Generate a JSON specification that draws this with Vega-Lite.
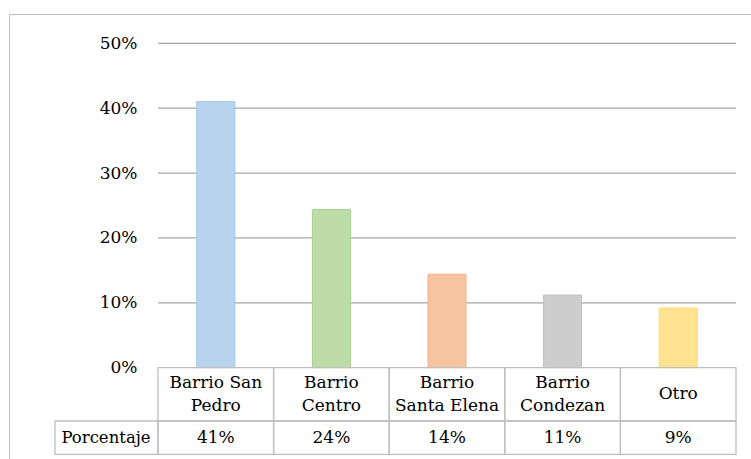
{
  "$schema": "https://vega.github.io/schema/vega-lite/v6.json",
  "width": 742,
  "height": 445,
  "autosize": {"type": "none"},
  "padding": {"left": 9, "top": 14, "right": 0, "bottom": 0},
  "background": "#ffffff",
  "config": {
    "font": "DejaVu Serif",
    "view": {"stroke": null},
    "axis": {"labelFont": "DejaVu Serif", "labelFontSize": 17, "labelColor": "#000000"},
    "text": {"font": "DejaVu Serif", "fontSize": 17, "color": "#000000"}
  },
  "datasets": {
    "barrios": [
      {"barrio": "Barrio San Pedro", "etiqueta": "Barrio San\nPedro", "porcentaje": 0.41},
      {"barrio": "Barrio Centro", "etiqueta": "Barrio\nCentro", "porcentaje": 0.244},
      {"barrio": "Barrio Santa Elena", "etiqueta": "Barrio\nSanta Elena", "porcentaje": 0.144},
      {"barrio": "Barrio Condezan", "etiqueta": "Barrio\nCondezan", "porcentaje": 0.112},
      {"barrio": "Otro", "etiqueta": "Otro", "porcentaje": 0.092}
    ],
    "guias": [{"nivel": 0.1}, {"nivel": 0.2}, {"nivel": 0.3}, {"nivel": 0.4}, {"nivel": 0.5}],
    "rotulo": [{"texto": "Porcentaje"}]
  },
  "layer": [
    {
      "data": {"name": "guias"},
      "mark": {"type": "rule", "color": "#a6a6a6", "strokeWidth": 1.3},
      "encoding": {
        "x": {
          "datum": "Barrio San Pedro",
          "type": "nominal",
          "bandPosition": 0,
          "scale": {
            "type": "band",
            "domain": ["Barrio San Pedro", "Barrio Centro", "Barrio Santa Elena", "Barrio Condezan", "Otro"],
            "paddingInner": 0,
            "paddingOuter": 0.70934,
            "align": 0.90854
          },
          "axis": {"orient": "top", "domain": true, "domainColor": "#bfbfbf", "domainWidth": 1, "labels": false, "ticks": false, "grid": false, "title": null}
        },
        "x2": {"datum": "Otro", "bandPosition": 1},
        "y": {
          "field": "nivel",
          "type": "quantitative",
          "scale": {"domain": [-0.14072, 0.54516], "nice": false, "zero": false},
          "axis": {
            "orient": "left",
            "values": [0, 0.1, 0.2, 0.3, 0.4, 0.5],
            "format": ".0%",
            "domain": true,
            "domainColor": "#bfbfbf",
            "domainWidth": 1,
            "ticks": false,
            "grid": false,
            "labelPadding": -128,
            "labelAlign": "right",
            "title": null
          }
        }
      }
    },
    {
      "data": {"name": "barrios"},
      "mark": {"type": "bar", "width": {"band": 0.329}, "strokeWidth": 1},
      "encoding": {
        "x": {"field": "barrio", "type": "nominal"},
        "y": {"field": "porcentaje", "type": "quantitative"},
        "y2": {"datum": 0},
        "fill": {
          "field": "barrio",
          "type": "nominal",
          "scale": {
            "domain": ["Barrio San Pedro", "Barrio Centro", "Barrio Santa Elena", "Barrio Condezan", "Otro"],
            "range": ["#b8d3ee", "#bedca8", "#f6c4a0", "#cdcdcd", "#ffe391"]
          },
          "legend": null
        },
        "stroke": {
          "field": "barrio",
          "type": "nominal",
          "scale": {
            "domain": ["Barrio San Pedro", "Barrio Centro", "Barrio Santa Elena", "Barrio Condezan", "Otro"],
            "range": ["#9fc3e8", "#a9d18e", "#f4b183", "#bfbfbf", "#ffd966"]
          },
          "legend": null
        }
      }
    },
    {
      "data": {"name": "barrios"},
      "mark": {"type": "rect", "fill": "transparent", "stroke": "#bfbfbf", "strokeWidth": 1.3},
      "encoding": {
        "x": {"field": "barrio", "type": "nominal"},
        "y": {"datum": 0},
        "y2": {"datum": -0.08215}
      }
    },
    {
      "data": {"name": "barrios"},
      "mark": {"type": "rect", "fill": "transparent", "stroke": "#bfbfbf", "strokeWidth": 1.3},
      "encoding": {
        "x": {"field": "barrio", "type": "nominal"},
        "y": {"datum": -0.08215},
        "y2": {"datum": -0.13348}
      }
    },
    {
      "data": {"name": "rotulo"},
      "mark": {"type": "rect", "fill": "transparent", "stroke": "#bfbfbf", "strokeWidth": 1.3, "xOffset": -103},
      "encoding": {
        "x": {"datum": "Barrio San Pedro", "type": "nominal", "bandPosition": 0},
        "x2": {"datum": "Barrio San Pedro", "bandPosition": 0},
        "y": {"datum": -0.08215},
        "y2": {"datum": -0.13348}
      }
    },
    {
      "data": {"name": "rotulo"},
      "mark": {"type": "text", "fontSize": 16.5, "dx": -52, "baseline": "middle", "align": "center"},
      "encoding": {
        "x": {"datum": "Barrio San Pedro", "type": "nominal", "bandPosition": 0},
        "y": {"datum": -0.10781},
        "text": {"field": "texto"}
      }
    },
    {
      "data": {"name": "barrios"},
      "transform": [{"filter": "indexof(datum.etiqueta, '\\n') >= 0"}],
      "mark": {"type": "text", "lineBreak": "\n", "lineHeight": 23, "baseline": "middle", "align": "center", "dy": -11.5},
      "encoding": {
        "x": {"field": "barrio", "type": "nominal"},
        "y": {"datum": -0.04056},
        "text": {"field": "etiqueta"}
      }
    },
    {
      "data": {"name": "barrios"},
      "transform": [{"filter": "indexof(datum.etiqueta, '\\n') < 0"}],
      "mark": {"type": "text", "baseline": "middle", "align": "center"},
      "encoding": {
        "x": {"field": "barrio", "type": "nominal"},
        "y": {"datum": -0.04056},
        "text": {"field": "etiqueta"}
      }
    },
    {
      "data": {"name": "barrios"},
      "mark": {"type": "text", "baseline": "middle", "align": "center"},
      "encoding": {
        "x": {"field": "barrio", "type": "nominal"},
        "y": {"datum": -0.10781},
        "text": {"field": "porcentaje", "type": "quantitative", "format": ".0%"}
      }
    }
  ]
}
